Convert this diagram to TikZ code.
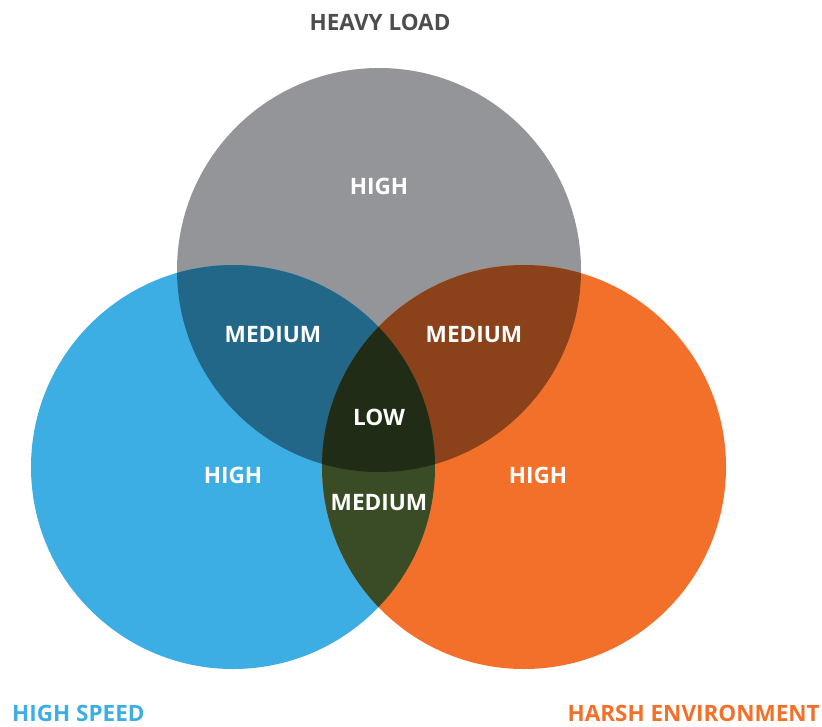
\documentclass[tikz,border=0pt]{standalone}
\usepackage{fontspec}
\setmainfont{Open Sans}
\usetikzlibrary{positioning}

\definecolor{loadgray}{HTML}{939598}
\definecolor{speedblue}{HTML}{3DAEE3}
\definecolor{harshorange}{HTML}{F2702A}
\definecolor{bluegray}{HTML}{236788}
\definecolor{orangegray}{HTML}{8B4119}
\definecolor{blueorange}{HTML}{3A4C25}
\definecolor{centredark}{HTML}{212C16}
\definecolor{titlegray}{HTML}{4D4D4D}

\tikzset{
  zone/.style={font=\bfseries\fontsize{19.3}{21}\selectfont, text=white},
  heading/.style={font=\bfseries\fontsize{19.2}{21}\selectfont, inner sep=0pt},
}

\begin{document}
\begin{tikzpicture}[x=0.03cm, y=-0.03cm]
    \useasboundingbox (0,0) rectangle (822,726);

    % The three circles
    \def\loadcircle{(379,270) circle (202)}
    \def\speedcircle{(233,467) circle (202)}
    \def\harshcircle{(524,467) circle (202)}

    \fill[loadgray] \loadcircle;
    \fill[speedblue] \speedcircle;
    \fill[harshorange] \harshcircle;

    % Overlaps
    \begin{scope}
        \clip \loadcircle;
        \fill[bluegray] \speedcircle;
        \fill[orangegray] \harshcircle;
    \end{scope}
    \begin{scope}
        \clip \speedcircle;
        \fill[blueorange] \harshcircle;
        \clip \harshcircle;
        \fill[centredark] \loadcircle;
    \end{scope}

    % Headings
    \node[heading, text=titlegray, anchor=base] (load) at (380,30) {HEAVY LOAD};
    \node[heading, text=speedblue, anchor=base west] (speed) at (12,721) {HIGH SPEED};
    \node[heading, text=harshorange, anchor=base east] (harsh) at (820,721) {HARSH ENVIRONMENT};

    % Zone labels
    \node[zone] (loadhigh) at (379,186) {HIGH};
    \node[zone] (speedhigh) at (233,475) {HIGH};
    \node[zone] (harshhigh) at (538,475) {HIGH};
    \node[zone] (leftmed) at (273,335) {MEDIUM};
    \node[zone] (rightmed) at (474,335) {MEDIUM};
    \node[zone] (lowmed) at (379,503) {MEDIUM};
    \node[zone] (low) at (379,417) {LOW};
\end{tikzpicture}
\end{document}
